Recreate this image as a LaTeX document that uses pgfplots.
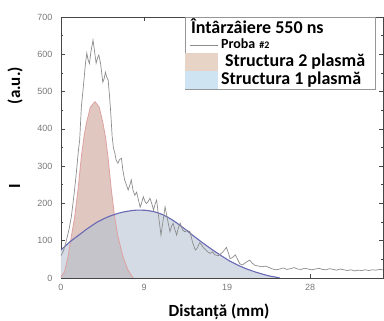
\documentclass[border=0pt]{standalone}
\usepackage{pgfplots}
\pgfplotsset{compat=1.18}
\usepackage{fontspec}
\setmainfont{Carlito}
\newfontfamily\tickfont{Liberation Sans}

\definecolor{blueFill}{RGB}{212,219,229}
\definecolor{redFill}{RGB}{224,200,193}
\definecolor{overlapFill}{RGB}{196,196,202}
\definecolor{blueLine}{RGB}{105,105,180}
\definecolor{redLine}{RGB}{222,160,160}
\definecolor{probe}{RGB}{140,140,140}
\definecolor{axisgray}{RGB}{70,70,70}
\definecolor{tickgray}{RGB}{120,120,120}
\definecolor{legendgray}{RGB}{150,150,150}
\definecolor{patchTwo}{RGB}{232,212,198}
\definecolor{patchOne}{RGB}{206,228,242}

% Structura 1 plasma (broad component)
\pgfplotstableread{
x y
0 75
0.5 86
1 97
1.5 106
2 115
2.5 124
3 133
3.5 141
4 149
4.5 155
5 161
5.5 166
6 170
6.5 174
7 177
7.5 179
8 181
8.5 182
9 182
9.5 181.5
10 180
10.5 177.5
11 174
11.5 169
12 163
12.5 156
13 148
13.5 139
14 130
14.5 120.5
15 111
15.5 102
16 93
16.5 84.5
17 76
17.5 68
18 60
18.5 52.5
19 45
19.5 39
20 33
20.5 28
21 23
21.5 19
22 15
22.5 11.5
23 8
23.5 5
24 3
24.3 1.5
24.6 0
}\structOne

% Structura 2 plasma (narrow component)
\pgfplotstableread{
x y
0 3
0.41 17
0.79 57
1.16 111
1.54 164
1.91 236
2.29 325
2.58 378
2.85 415
3.3 458
3.82 473
4.3 458
4.72 415
5.0 378
5.28 325
5.66 236
6.03 164
6.4 111
6.97 57
7.53 21
7.9 8
8.1 0
}\structTwo

% region shared by both components
\pgfplotstableread{
x y
0 3
0.41 17
0.79 57
1.073 98.3
1.5 106
2 115
2.5 124
3 133
3.5 141
4 149
4.5 155
5 161
5.5 166
6.0 170
6.03 164
6.4 111
6.97 57
7.53 21
7.9 8
8.1 0
}\shared

% Proba #2 measured profile
\pgfplotstableread{
x y
0 60
0.3 74
0.6 100
0.9 130
1.16 164
1.45 220
1.72 281
1.95 340
2.1 370
2.29 459
2.5 510
2.75 575
2.9 603
3.05 585
3.2 575
3.35 605
3.6 638
3.75 612
3.95 576
4.1 590
4.25 598
4.45 575
4.7 525
4.85 535
5.0 552
5.15 538
5.3 531
5.45 490
5.6 440
5.75 380
5.9 348
6.07 334
6.2 316
6.4 308
6.6 318
6.8 321
6.95 290
7.15 263
7.35 250
7.55 236
7.75 250
7.9 263
8.1 235
8.3 222
8.5 230
8.7 210
8.9 190
9.05 200
9.25 218
9.45 205
9.6 200
9.8 205
10.0 214
10.2 200
10.4 182
10.6 200
10.75 209
10.95 170
11.24 115
11.45 150
11.7 191
11.95 160
12.25 124
12.45 140
12.6 147
12.8 130
13.0 115
13.2 135
13.4 147
13.65 130
13.9 124
14.2 128
14.5 124
14.8 95
15.1 75
15.3 80
15.6 95
16.0 82
16.4 72
16.75 66
17.05 70
17.3 62
17.7 60
18.2 70
18.6 82
18.85 65
19.0 52
19.3 55
19.6 62
19.85 50
20.1 38
20.4 35
20.8 42
21.2 48
21.5 40
21.8 34
22.2 32
22.6 30
23.0 32
23.4 28
23.8 24
24.2 22
24.6 24
25.0 27
25.4 23
25.8 25
26.2 28
26.6 24
27.0 23
27.4 26
27.8 24
28.2 22
28.6 24
29.0 26
29.4 23
29.8 22
30.2 25
30.6 23
31.0 21
31.4 24
31.8 22
32.2 20
32.6 22
33.0 19
33.4 21
33.8 20
34.2 22
34.6 20
35.0 22
35.4 21
35.8 23
36.2 22
}\proba

\begin{document}
\begin{tikzpicture}
\useasboundingbox (-61pt,-43pt) rectangle (323pt,278pt);
\begin{axis}[
  scale only axis, width=322pt, height=261pt,
  xmin=0, xmax=36.2, ymin=0, ymax=700,
  xtick={0,9.3333,18.6667,28}, xticklabels={0,9,19,28},
  ytick={0,100,...,700},
  minor x tick num=1, minor y tick num=1,
  tick align=inside, major tick length=4pt, minor tick length=2.5pt,
  axis line style={draw=axisgray, line width=0.8pt},
  every tick/.style={axisgray, line width=0.7pt},
  tick label style={font=\tickfont\fontsize{9}{9}\selectfont, text=tickgray},
  /pgf/number format/assume math mode=true,
  yticklabel style={xshift=-5pt},
  xticklabel style={yshift=-3pt},
  xlabel={Distanță (mm)},
  xlabel style={at={(axis description cs:0.4907,0)}, anchor=center, yshift=-34pt,
    font=\bfseries\fontsize{17}{17}\selectfont},
  ylabel={I\hspace{80pt}(a.u.)},
  ylabel style={at={(axis description cs:0,0.575)}, anchor=center, yshift=46pt,
    font=\bfseries\fontsize{17}{17}\selectfont},
  legend style={at={(0.385,1)}, anchor=north west, draw=legendgray, fill=white,
    inner sep=0.5pt, outer sep=0pt, row sep=0pt,
    font=\bfseries\fontsize{18}{18}\selectfont,
    nodes={inner sep=0pt}},
  legend cell align=left,
]
\addplot[fill=blueFill, draw=none, forget plot] table {\structOne} \closedcycle;
\addplot[fill=redFill, draw=none, forget plot] table {\structTwo} \closedcycle;
\addplot[fill=overlapFill, draw=none, forget plot] table {\shared} \closedcycle;
\addplot[redLine, line width=0.8pt, forget plot] table {\structTwo};
\addplot[blueLine, line width=1.1pt, forget plot] table {\structOne};
\addplot[probe, line width=0.7pt, forget plot] table {\proba};

\addlegendimage{empty legend}
\addlegendentry[text height=16pt, text depth=5pt]{\hspace*{-27pt}Întârzâiere 550 ns}
\addlegendimage{legend image code/.code={\draw[probe, line width=0.8pt] (4pt,0.5pt) -- (32pt,0.5pt);}}
\addlegendentry[text height=10pt, text depth=4pt]{\hspace*{3pt}{\fontsize{14}{14}\selectfont Proba} {\fontsize{10}{10}\selectfont\#2}}
\addlegendimage{legend image code/.code={\fill[patchTwo] (0pt,-8.5pt) rectangle (32pt,8.5pt);}}
\addlegendentry[text height=14pt, text depth=4pt]{\hspace*{7pt}Structura 2 plasmă\hspace*{10pt}}
\addlegendimage{legend image code/.code={\fill[patchOne] (0pt,-8.5pt) rectangle (32pt,8.5pt);}}
\addlegendentry[text height=14pt, text depth=4pt]{\hspace*{3pt}Structura 1 plasmă}
\end{axis}
\end{tikzpicture}
\end{document}
